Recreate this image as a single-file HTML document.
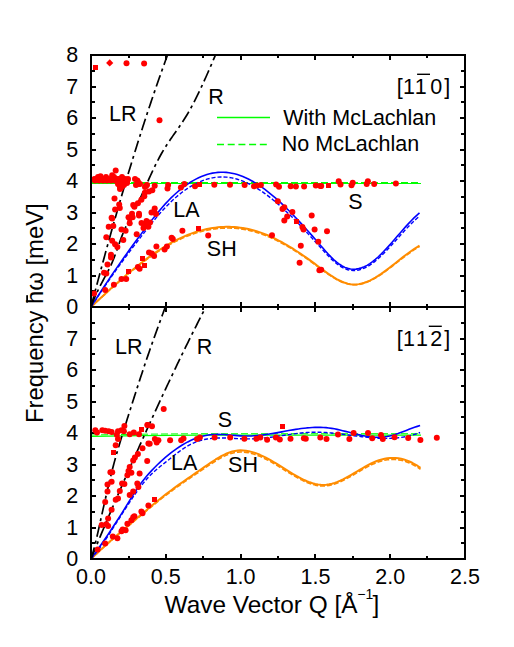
<!DOCTYPE html>
<html><head><meta charset="utf-8"><style>
html,body{margin:0;padding:0;background:#fff;width:514px;height:647px;overflow:hidden}
svg{display:block}
text{font-family:'Liberation Sans', sans-serif;fill:#000}
</style></head><body>
<svg width="514" height="647" viewBox="0 0 514 647">
<g shape-rendering="crispEdges"><rect x="91" y="55" width="374" height="252" fill="none" stroke="#000" stroke-width="2"/><line x1="91" y1="291" x2="95" y2="291" stroke="#000" stroke-width="2"/><line x1="461" y1="291" x2="465" y2="291" stroke="#000" stroke-width="2"/><line x1="91" y1="276" x2="96" y2="276" stroke="#000" stroke-width="2"/><line x1="460" y1="276" x2="465" y2="276" stroke="#000" stroke-width="2"/><line x1="91" y1="260" x2="95" y2="260" stroke="#000" stroke-width="2"/><line x1="461" y1="260" x2="465" y2="260" stroke="#000" stroke-width="2"/><line x1="91" y1="244" x2="96" y2="244" stroke="#000" stroke-width="2"/><line x1="460" y1="244" x2="465" y2="244" stroke="#000" stroke-width="2"/><line x1="91" y1="228" x2="95" y2="228" stroke="#000" stroke-width="2"/><line x1="461" y1="228" x2="465" y2="228" stroke="#000" stroke-width="2"/><line x1="91" y1="213" x2="96" y2="213" stroke="#000" stroke-width="2"/><line x1="460" y1="213" x2="465" y2="213" stroke="#000" stroke-width="2"/><line x1="91" y1="197" x2="95" y2="197" stroke="#000" stroke-width="2"/><line x1="461" y1="197" x2="465" y2="197" stroke="#000" stroke-width="2"/><line x1="91" y1="181" x2="96" y2="181" stroke="#000" stroke-width="2"/><line x1="460" y1="181" x2="465" y2="181" stroke="#000" stroke-width="2"/><line x1="91" y1="165" x2="95" y2="165" stroke="#000" stroke-width="2"/><line x1="461" y1="165" x2="465" y2="165" stroke="#000" stroke-width="2"/><line x1="91" y1="150" x2="96" y2="150" stroke="#000" stroke-width="2"/><line x1="460" y1="150" x2="465" y2="150" stroke="#000" stroke-width="2"/><line x1="91" y1="134" x2="95" y2="134" stroke="#000" stroke-width="2"/><line x1="461" y1="134" x2="465" y2="134" stroke="#000" stroke-width="2"/><line x1="91" y1="118" x2="96" y2="118" stroke="#000" stroke-width="2"/><line x1="460" y1="118" x2="465" y2="118" stroke="#000" stroke-width="2"/><line x1="91" y1="102" x2="95" y2="102" stroke="#000" stroke-width="2"/><line x1="461" y1="102" x2="465" y2="102" stroke="#000" stroke-width="2"/><line x1="91" y1="87" x2="96" y2="87" stroke="#000" stroke-width="2"/><line x1="460" y1="87" x2="465" y2="87" stroke="#000" stroke-width="2"/><line x1="91" y1="71" x2="95" y2="71" stroke="#000" stroke-width="2"/><line x1="461" y1="71" x2="465" y2="71" stroke="#000" stroke-width="2"/><rect x="91" y="307" width="374" height="252" fill="none" stroke="#000" stroke-width="2"/><line x1="91" y1="543" x2="95" y2="543" stroke="#000" stroke-width="2"/><line x1="461" y1="543" x2="465" y2="543" stroke="#000" stroke-width="2"/><line x1="91" y1="528" x2="96" y2="528" stroke="#000" stroke-width="2"/><line x1="460" y1="528" x2="465" y2="528" stroke="#000" stroke-width="2"/><line x1="91" y1="512" x2="95" y2="512" stroke="#000" stroke-width="2"/><line x1="461" y1="512" x2="465" y2="512" stroke="#000" stroke-width="2"/><line x1="91" y1="496" x2="96" y2="496" stroke="#000" stroke-width="2"/><line x1="460" y1="496" x2="465" y2="496" stroke="#000" stroke-width="2"/><line x1="91" y1="480" x2="95" y2="480" stroke="#000" stroke-width="2"/><line x1="461" y1="480" x2="465" y2="480" stroke="#000" stroke-width="2"/><line x1="91" y1="465" x2="96" y2="465" stroke="#000" stroke-width="2"/><line x1="460" y1="465" x2="465" y2="465" stroke="#000" stroke-width="2"/><line x1="91" y1="449" x2="95" y2="449" stroke="#000" stroke-width="2"/><line x1="461" y1="449" x2="465" y2="449" stroke="#000" stroke-width="2"/><line x1="91" y1="433" x2="96" y2="433" stroke="#000" stroke-width="2"/><line x1="460" y1="433" x2="465" y2="433" stroke="#000" stroke-width="2"/><line x1="91" y1="417" x2="95" y2="417" stroke="#000" stroke-width="2"/><line x1="461" y1="417" x2="465" y2="417" stroke="#000" stroke-width="2"/><line x1="91" y1="402" x2="96" y2="402" stroke="#000" stroke-width="2"/><line x1="460" y1="402" x2="465" y2="402" stroke="#000" stroke-width="2"/><line x1="91" y1="386" x2="95" y2="386" stroke="#000" stroke-width="2"/><line x1="461" y1="386" x2="465" y2="386" stroke="#000" stroke-width="2"/><line x1="91" y1="370" x2="96" y2="370" stroke="#000" stroke-width="2"/><line x1="460" y1="370" x2="465" y2="370" stroke="#000" stroke-width="2"/><line x1="91" y1="354" x2="95" y2="354" stroke="#000" stroke-width="2"/><line x1="461" y1="354" x2="465" y2="354" stroke="#000" stroke-width="2"/><line x1="91" y1="339" x2="96" y2="339" stroke="#000" stroke-width="2"/><line x1="460" y1="339" x2="465" y2="339" stroke="#000" stroke-width="2"/><line x1="91" y1="323" x2="95" y2="323" stroke="#000" stroke-width="2"/><line x1="461" y1="323" x2="465" y2="323" stroke="#000" stroke-width="2"/><line x1="129" y1="55" x2="129" y2="58" stroke="#000" stroke-width="2"/><line x1="129" y1="304" x2="129" y2="310" stroke="#000" stroke-width="2"/><line x1="129" y1="556" x2="129" y2="559" stroke="#000" stroke-width="2"/><line x1="166" y1="55" x2="166" y2="60" stroke="#000" stroke-width="2"/><line x1="166" y1="302" x2="166" y2="312" stroke="#000" stroke-width="2"/><line x1="166" y1="554" x2="166" y2="559" stroke="#000" stroke-width="2"/><line x1="203" y1="55" x2="203" y2="58" stroke="#000" stroke-width="2"/><line x1="203" y1="304" x2="203" y2="310" stroke="#000" stroke-width="2"/><line x1="203" y1="556" x2="203" y2="559" stroke="#000" stroke-width="2"/><line x1="241" y1="55" x2="241" y2="60" stroke="#000" stroke-width="2"/><line x1="241" y1="302" x2="241" y2="312" stroke="#000" stroke-width="2"/><line x1="241" y1="554" x2="241" y2="559" stroke="#000" stroke-width="2"/><line x1="278" y1="55" x2="278" y2="58" stroke="#000" stroke-width="2"/><line x1="278" y1="304" x2="278" y2="310" stroke="#000" stroke-width="2"/><line x1="278" y1="556" x2="278" y2="559" stroke="#000" stroke-width="2"/><line x1="315" y1="55" x2="315" y2="60" stroke="#000" stroke-width="2"/><line x1="315" y1="302" x2="315" y2="312" stroke="#000" stroke-width="2"/><line x1="315" y1="554" x2="315" y2="559" stroke="#000" stroke-width="2"/><line x1="353" y1="55" x2="353" y2="58" stroke="#000" stroke-width="2"/><line x1="353" y1="304" x2="353" y2="310" stroke="#000" stroke-width="2"/><line x1="353" y1="556" x2="353" y2="559" stroke="#000" stroke-width="2"/><line x1="390" y1="55" x2="390" y2="60" stroke="#000" stroke-width="2"/><line x1="390" y1="302" x2="390" y2="312" stroke="#000" stroke-width="2"/><line x1="390" y1="554" x2="390" y2="559" stroke="#000" stroke-width="2"/><line x1="427" y1="55" x2="427" y2="58" stroke="#000" stroke-width="2"/><line x1="427" y1="304" x2="427" y2="310" stroke="#000" stroke-width="2"/><line x1="427" y1="556" x2="427" y2="559" stroke="#000" stroke-width="2"/></g>
<defs><clipPath id="cu"><rect x="92" y="56" width="372" height="250"/></clipPath><clipPath id="cl"><rect x="92" y="308" width="372" height="250"/></clipPath></defs>
<g clip-path="url(#cu)">
<polyline points="91.00,182.50 421.00,182.50" fill="none" stroke="#00ff00" stroke-width="1" stroke-dasharray="7,3" stroke-linejoin="round" />
<polyline points="91.00,183.50 421.00,183.50" fill="none" stroke="#00ff00" stroke-width="1.2" stroke-linejoin="round" />
<polyline points="91.00,307.00 93.76,304.45 96.52,301.91 99.28,299.37 102.04,296.85 104.80,294.35 107.56,291.85 110.32,289.38 113.08,286.93 115.84,284.50 118.61,282.09 121.37,279.71 124.13,277.36 126.89,275.04 129.65,272.76 132.41,270.51 135.17,268.29 137.93,266.12 140.69,263.98 143.45,261.89 146.21,259.84 148.97,257.85 151.73,255.90 154.49,254.00 157.25,252.16 160.01,250.37 162.77,248.64 165.53,246.97 168.29,245.37 171.05,243.82 173.82,242.35 176.58,240.94 179.34,239.60 182.10,238.33 184.86,237.14 187.62,236.02 190.38,234.97 193.14,233.99 195.90,233.09 198.66,232.25 201.42,231.50 204.18,230.81 206.94,230.20 209.70,229.67 212.46,229.21 215.22,228.83 217.98,228.52 220.74,228.29 223.50,228.14 226.26,228.06 229.03,228.06 231.79,228.14 234.55,228.29 237.31,228.53 240.07,228.84 242.83,229.23 245.59,229.70 248.35,230.26 251.11,230.89 253.87,231.60 256.63,232.39 259.39,233.27 262.15,234.22 264.91,235.26 267.67,236.37 270.43,237.55 273.19,238.81 275.95,240.13 278.71,241.52 281.47,242.97 284.24,244.48 287.00,246.05 289.76,247.67 292.52,249.34 295.28,251.07 298.04,252.84 300.80,254.66 303.56,256.52 306.32,258.42 309.08,260.36 311.84,262.33 314.60,264.33 317.36,266.36 320.12,268.40 322.88,270.42 325.64,272.41 328.40,274.33 331.16,276.17 333.92,277.89 336.68,279.48 339.45,280.91 342.21,282.15 344.97,283.18 347.73,283.99 350.49,284.53 353.25,284.79 356.01,284.77 358.77,284.47 361.53,283.92 364.29,283.14 367.05,282.14 369.81,280.95 372.57,279.58 375.33,278.04 378.09,276.37 380.85,274.57 383.61,272.66 386.37,270.66 389.13,268.60 391.89,266.49 394.66,264.34 397.42,262.18 400.18,260.02 402.94,257.88 405.70,255.79 408.46,253.75 411.22,251.79 413.98,249.92 416.74,248.17 419.50,246.55" fill="none" stroke="#ff8c00" stroke-width="1.6" stroke-dasharray="5,2" stroke-linejoin="round" />
<polyline points="91.00,307.00 93.76,304.41 96.52,301.83 99.28,299.26 102.04,296.70 104.80,294.15 107.56,291.62 110.32,289.11 113.08,286.62 115.84,284.16 118.61,281.71 121.37,279.30 124.13,276.91 126.89,274.56 129.65,272.24 132.41,269.95 135.17,267.70 137.93,265.49 140.69,263.33 143.45,261.20 146.21,259.13 148.97,257.10 151.73,255.12 154.49,253.19 157.25,251.32 160.01,249.51 162.77,247.75 165.53,246.06 168.29,244.43 171.05,242.86 173.82,241.36 176.58,239.93 179.34,238.57 182.10,237.29 184.86,236.08 187.62,234.94 190.38,233.87 193.14,232.88 195.90,231.96 198.66,231.12 201.42,230.35 204.18,229.65 206.94,229.04 209.70,228.49 212.46,228.03 215.22,227.64 217.98,227.33 220.74,227.09 223.50,226.94 226.26,226.86 229.03,226.86 231.79,226.94 234.55,227.09 237.31,227.33 240.07,227.65 242.83,228.05 245.59,228.53 248.35,229.09 251.11,229.73 253.87,230.45 256.63,231.26 259.39,232.15 262.15,233.12 264.91,234.17 267.67,235.29 270.43,236.49 273.19,237.77 275.95,239.11 278.71,240.52 281.47,241.99 284.24,243.52 287.00,245.12 289.76,246.77 292.52,248.47 295.28,250.22 298.04,252.02 300.80,253.86 303.56,255.75 306.32,257.68 309.08,259.65 311.84,261.65 314.60,263.68 317.36,265.74 320.12,267.81 322.88,269.86 325.64,271.88 328.40,273.83 331.16,275.70 333.92,277.45 336.68,279.06 339.45,280.51 342.21,281.77 344.97,282.82 347.73,283.64 350.49,284.19 353.25,284.45 356.01,284.43 358.77,284.13 361.53,283.57 364.29,282.78 367.05,281.77 369.81,280.55 372.57,279.16 375.33,277.60 378.09,275.90 380.85,274.07 383.61,272.14 386.37,270.11 389.13,268.02 391.89,265.87 394.66,263.69 397.42,261.49 400.18,259.30 402.94,257.13 405.70,255.01 408.46,252.94 411.22,250.95 413.98,249.05 416.74,247.27 419.50,245.63" fill="none" stroke="#ff8c00" stroke-width="2.0" stroke-linejoin="round" />
<polyline points="91.00,307.00 93.76,302.77 96.52,298.59 99.28,294.45 102.04,290.34 104.80,286.28 107.56,282.26 110.32,278.28 113.08,274.34 115.84,270.45 118.61,266.59 121.37,262.78 124.13,259.01 126.89,255.28 129.65,251.60 132.41,247.94 135.17,244.32 137.93,240.73 140.69,237.16 143.45,233.61 146.21,230.09 148.97,226.60 151.73,223.17 154.49,219.80 157.25,216.51 160.01,213.32 162.77,210.23 165.53,207.27 168.29,204.44 171.05,201.74 173.82,199.17 176.58,196.74 179.34,194.45 182.10,192.29 184.86,190.27 187.62,188.39 190.38,186.65 193.14,185.04 195.90,183.58 198.66,182.27 201.42,181.09 204.18,180.06 206.94,179.17 209.70,178.43 212.46,177.84 215.22,177.39 217.98,177.09 220.74,176.94 223.50,176.94 226.26,177.10 229.03,177.40 231.79,177.86 234.55,178.46 237.31,179.21 240.07,180.09 242.83,181.11 245.59,182.25 248.35,183.53 251.11,184.92 253.87,186.43 256.63,188.06 259.39,189.79 262.15,191.63 264.91,193.57 267.67,195.60 270.43,197.73 273.19,199.95 275.95,202.25 278.71,204.63 281.47,207.09 284.24,209.61 287.00,212.21 289.76,214.87 292.52,217.58 295.28,220.35 298.04,223.18 300.80,226.04 303.56,228.96 306.32,231.91 309.08,234.89 311.84,237.90 314.60,240.94 317.36,244.00 320.12,247.08 322.88,250.15 325.64,253.17 328.40,256.09 331.16,258.87 333.92,261.44 336.68,263.76 339.45,265.79 342.21,267.47 344.97,268.78 347.73,269.72 350.49,270.30 353.25,270.53 356.01,270.42 358.77,269.98 361.53,269.23 364.29,268.17 367.05,266.80 369.81,265.15 372.57,263.24 375.33,261.09 378.09,258.74 380.85,256.20 383.61,253.50 386.37,250.67 389.13,247.74 391.89,244.73 394.66,241.67 397.42,238.58 400.18,235.50 402.94,232.45 405.70,229.45 408.46,226.53 411.22,223.72 413.98,221.04 416.74,218.52 419.50,216.20" fill="none" stroke="#0000ff" stroke-width="1.4" stroke-dasharray="4,2" stroke-linejoin="round" />
<polyline points="91.00,307.00 93.76,302.62 96.52,298.28 99.28,293.99 102.04,289.74 104.80,285.53 107.56,281.36 110.32,277.24 113.08,273.16 115.84,269.12 118.61,265.13 121.37,261.18 124.13,257.27 126.89,253.41 129.65,249.59 132.41,245.80 135.17,242.05 137.93,238.33 140.69,234.63 143.45,230.95 146.21,227.30 148.97,223.69 151.73,220.13 154.49,216.64 157.25,213.23 160.01,209.92 162.77,206.72 165.53,203.65 168.29,200.72 171.05,197.92 173.82,195.26 176.58,192.75 179.34,190.37 182.10,188.13 184.86,186.04 187.62,184.09 190.38,182.28 193.14,180.62 195.90,179.11 198.66,177.74 201.42,176.52 204.18,175.45 206.94,174.53 209.70,173.77 212.46,173.15 215.22,172.69 217.98,172.38 220.74,172.23 223.50,172.23 226.26,172.39 229.03,172.70 231.79,173.18 234.55,173.80 237.31,174.57 240.07,175.49 242.83,176.54 245.59,177.73 248.35,179.05 251.11,180.49 253.87,182.06 256.63,183.74 259.39,185.54 262.15,187.44 264.91,189.45 267.67,191.56 270.43,193.77 273.19,196.07 275.95,198.45 278.71,200.92 281.47,203.46 284.24,206.08 287.00,208.77 289.76,211.52 292.52,214.34 295.28,217.21 298.04,220.14 300.80,223.11 303.56,226.13 306.32,229.18 309.08,232.27 311.84,235.40 314.60,238.54 317.36,241.72 320.12,244.90 322.88,248.09 325.64,251.22 328.40,254.25 331.16,257.12 333.92,259.79 336.68,262.20 339.45,264.30 342.21,266.04 344.97,267.39 347.73,268.37 350.49,268.97 353.25,269.21 356.01,269.09 358.77,268.64 361.53,267.86 364.29,266.76 367.05,265.34 369.81,263.64 372.57,261.65 375.33,259.43 378.09,256.99 380.85,254.35 383.61,251.56 386.37,248.63 389.13,245.59 391.89,242.47 394.66,239.30 397.42,236.10 400.18,232.91 402.94,229.74 405.70,226.63 408.46,223.61 411.22,220.70 413.98,217.92 416.74,215.32 419.50,212.90" fill="none" stroke="#0000ff" stroke-width="1.6" stroke-linejoin="round" />
<polyline points="91.00,307.01 91.70,304.34 92.39,301.67 93.09,299.02 93.78,296.36 94.48,293.72 95.17,291.08 95.87,288.45 96.56,285.83 97.26,283.21 97.95,280.60 98.65,278.00 99.35,275.41 100.04,272.82 100.74,270.23 101.43,267.66 102.13,265.09 102.82,262.53 103.52,259.97 104.21,257.42 104.91,254.88 105.61,252.35 106.30,249.82 107.00,247.30 107.69,244.78 108.39,242.27 109.08,239.77 109.78,237.28 110.47,234.79 111.17,232.31 111.86,229.84 112.56,227.37 113.26,224.92 113.95,222.46 114.65,220.02 115.34,217.58 116.04,215.15 116.73,212.72 117.43,210.31 118.12,207.90 118.82,205.49 119.51,203.10 120.21,200.71 120.91,198.33 121.60,195.95 122.30,193.58 122.99,191.22 123.69,188.87 124.38,186.52 125.08,184.18 125.77,181.85 126.47,179.52 127.16,177.20 127.86,174.89 128.56,172.59 129.25,170.29 129.95,168.00 130.64,165.71 131.34,163.44 132.03,161.17 132.73,158.91 133.42,156.65 134.12,154.41 134.82,152.16 135.51,149.93 136.21,147.71 136.90,145.49 137.60,143.28 138.29,141.07 138.99,138.87 139.68,136.68 140.38,134.50 141.07,132.33 141.77,130.16 142.47,128.00 143.16,125.84 143.86,123.70 144.55,121.56 145.25,119.42 145.94,117.30 146.64,115.18 147.33,113.07 148.03,110.97 148.72,108.87 149.42,106.79 150.12,104.71 150.81,102.63 151.51,100.57 152.20,98.51 152.90,96.46 153.59,94.41 154.29,92.38 154.98,90.35 155.68,88.33 156.38,86.31 157.07,84.30 157.77,82.30 158.46,80.31 159.16,78.33 159.85,76.35 160.55,74.38 161.24,72.42 161.94,70.46 162.63,68.52 163.33,66.58 164.03,64.64 164.72,62.72 165.42,60.80 166.11,58.89 166.81,56.99 167.50,55.10 168.20,53.21 168.89,51.33 169.59,49.46 170.28,47.59 170.98,45.73 171.68,43.89 172.37,42.04 173.07,40.21 173.76,38.38" fill="none" stroke="#000" stroke-width="1.7" stroke-dasharray="12,4,3,4" stroke-linejoin="round" />
<polyline points="91.00,307.00 92.10,304.01 93.21,301.17 94.31,298.46 95.42,295.88 96.52,293.41 97.63,291.04 98.73,288.75 99.83,286.54 100.94,284.39 102.04,282.30 103.15,280.23 104.25,278.20 105.35,276.16 106.46,274.11 107.56,272.02 108.67,269.87 109.77,267.63 110.88,265.29 111.98,262.83 113.08,260.22 114.19,257.44 115.29,254.51 116.40,251.46 117.50,248.35 118.60,245.21 119.71,242.09 120.81,239.03 121.92,236.08 123.02,233.28 124.13,230.65 125.23,228.18 126.33,225.83 127.44,223.58 128.54,221.42 129.65,219.31 130.75,217.25 131.85,215.19 132.96,213.12 134.06,211.02 135.17,208.87 136.27,206.65 137.38,204.38 138.48,202.06 139.58,199.70 140.69,197.30 141.79,194.87 142.90,192.42 144.00,189.96 145.11,187.49 146.21,185.01 147.31,182.54 148.42,180.09 149.52,177.65 150.63,175.23 151.73,172.84 152.83,170.48 153.94,168.16 155.04,165.88 156.15,163.65 157.25,161.46 158.36,159.33 159.46,157.25 160.56,155.23 161.67,153.28 162.77,151.38 163.88,149.54 164.98,147.74 166.08,145.99 167.19,144.28 168.29,142.60 169.40,140.95 170.50,139.33 171.61,137.72 172.71,136.13 173.81,134.56 174.92,132.98 176.02,131.41 177.13,129.84 178.23,128.25 179.34,126.66 180.44,125.04 181.54,123.40 182.65,121.74 183.75,120.04 184.86,118.31 185.96,116.54 187.06,114.72 188.17,112.84 189.27,110.92 190.38,108.95 191.48,106.94 192.59,104.87 193.69,102.77 194.79,100.62 195.90,98.43 197.00,96.21 198.11,93.95 199.21,91.65 200.31,89.32 201.42,86.96 202.52,84.57 203.63,82.15 204.73,79.71 205.84,77.24 206.94,74.75 208.04,72.24 209.15,69.71 210.25,67.16 211.36,64.60 212.46,62.02 213.56,59.43 214.67,56.84 215.77,54.23 216.88,51.62 217.98,49.00 219.09,46.38 220.19,43.76 221.29,41.14 222.40,38.52" fill="none" stroke="#000" stroke-width="1.7" stroke-dasharray="12,4,3,4" stroke-linejoin="round" />
</g>
<g clip-path="url(#cl)">
<polyline points="91.00,435.00 140.00,434.20 200.00,433.70 421.00,433.70" fill="none" stroke="#00ff00" stroke-width="1" stroke-dasharray="7,3" stroke-linejoin="round" />
<polyline points="91.00,436.30 140.00,435.60 200.00,435.20 421.00,435.20" fill="none" stroke="#00ff00" stroke-width="1.2" stroke-linejoin="round" />
<polyline points="91.00,559.00 93.77,556.38 96.54,553.80 99.31,551.25 102.08,548.74 104.84,546.25 107.61,543.80 110.38,541.37 113.15,538.96 115.92,536.57 118.69,534.20 121.46,531.84 124.23,529.49 127.00,527.16 129.76,524.83 132.53,522.50 135.30,520.17 138.07,517.84 140.84,515.52 143.61,513.19 146.38,510.88 149.15,508.58 151.92,506.29 154.68,504.03 157.45,501.81 160.22,499.61 162.99,497.45 165.76,495.34 168.53,493.26 171.30,491.23 174.07,489.22 176.84,487.25 179.61,485.30 182.37,483.37 185.14,481.46 187.91,479.57 190.68,477.69 193.45,475.81 196.22,473.94 198.99,472.06 201.76,470.18 204.53,468.30 207.29,466.41 210.06,464.55 212.83,462.73 215.60,460.98 218.37,459.32 221.14,457.77 223.91,456.36 226.68,455.11 229.45,454.04 232.21,453.18 234.98,452.54 237.75,452.15 240.52,452.00 243.29,452.06 246.06,452.34 248.83,452.81 251.60,453.46 254.37,454.28 257.13,455.25 259.90,456.35 262.67,457.59 265.44,458.93 268.21,460.37 270.98,461.89 273.75,463.48 276.52,465.13 279.29,466.82 282.05,468.53 284.82,470.25 287.59,471.97 290.36,473.67 293.13,475.32 295.90,476.92 298.67,478.45 301.44,479.89 304.21,481.21 306.97,482.41 309.74,483.47 312.51,484.37 315.28,485.09 318.05,485.61 320.82,485.93 323.59,486.01 326.36,485.85 329.13,485.44 331.89,484.82 334.66,483.99 337.43,482.99 340.20,481.83 342.97,480.54 345.74,479.13 348.51,477.64 351.28,476.08 354.05,474.48 356.82,472.85 359.58,471.23 362.35,469.63 365.12,468.07 367.89,466.58 370.66,465.18 373.43,463.89 376.20,462.74 378.97,461.74 381.74,460.91 384.50,460.27 387.27,459.81 390.04,459.54 392.81,459.45 395.58,459.55 398.35,459.85 401.12,460.33 403.89,461.01 406.66,461.88 409.42,462.95 412.19,464.22 414.96,465.69 417.73,467.36 420.50,469.24" fill="none" stroke="#ff8c00" stroke-width="1.6" stroke-dasharray="5,2" stroke-linejoin="round" />
<polyline points="91.00,559.00 93.77,556.34 96.54,553.72 99.31,551.13 102.08,548.58 104.84,546.06 107.61,543.57 110.38,541.10 113.15,538.65 115.92,536.23 118.69,533.82 121.46,531.43 124.23,529.04 127.00,526.67 129.76,524.31 132.53,521.94 135.30,519.58 138.07,517.22 140.84,514.85 143.61,512.49 146.38,510.14 149.15,507.81 151.92,505.49 154.68,503.20 157.45,500.93 160.22,498.70 162.99,496.51 165.76,494.37 168.53,492.26 171.30,490.19 174.07,488.16 176.84,486.16 179.61,484.18 182.37,482.22 185.14,480.28 187.91,478.36 190.68,476.45 193.45,474.54 196.22,472.64 198.99,470.74 201.76,468.83 204.53,466.91 207.29,465.00 210.06,463.11 212.83,461.26 215.60,459.48 218.37,457.80 221.14,456.23 223.91,454.80 226.68,453.53 229.45,452.45 232.21,451.57 234.98,450.92 237.75,450.52 240.52,450.37 243.29,450.43 246.06,450.71 248.83,451.19 251.60,451.85 254.37,452.68 257.13,453.67 259.90,454.79 262.67,456.04 265.44,457.41 268.21,458.87 270.98,460.41 273.75,462.03 276.52,463.70 279.29,465.41 282.05,467.15 284.82,468.90 287.59,470.65 290.36,472.37 293.13,474.05 295.90,475.67 298.67,477.22 301.44,478.68 304.21,480.03 306.97,481.25 309.74,482.32 312.51,483.23 315.28,483.96 318.05,484.50 320.82,484.81 323.59,484.90 326.36,484.74 329.13,484.32 331.89,483.69 334.66,482.85 337.43,481.83 340.20,480.65 342.97,479.34 345.74,477.92 348.51,476.40 351.28,474.82 354.05,473.19 356.82,471.54 359.58,469.89 362.35,468.27 365.12,466.69 367.89,465.18 370.66,463.75 373.43,462.44 376.20,461.27 378.97,460.26 381.74,459.42 384.50,458.77 387.27,458.30 390.04,458.02 392.81,457.94 395.58,458.04 398.35,458.34 401.12,458.83 403.89,459.51 406.66,460.40 409.42,461.49 412.19,462.78 414.96,464.27 417.73,465.97 420.50,467.87" fill="none" stroke="#ff8c00" stroke-width="2.0" stroke-linejoin="round" />
<polyline points="91.00,559.00 93.77,555.71 96.53,552.20 99.30,548.50 102.06,544.64 104.83,540.63 107.59,536.51 110.36,532.29 113.12,527.99 115.89,523.65 118.66,519.29 121.42,514.93 124.19,510.59 126.95,506.29 129.72,502.07 132.48,497.95 135.25,493.94 138.01,490.08 140.78,486.38 143.55,482.88 146.31,479.58 149.08,476.53 151.84,473.74 154.61,471.17 157.37,468.79 160.14,466.53 162.90,464.34 165.67,462.17 168.44,459.97 171.20,457.75 173.97,455.56 176.73,453.42 179.50,451.35 182.26,449.38 185.03,447.54 187.79,445.86 190.56,444.37 193.33,443.07 196.09,441.95 198.86,441.00 201.62,440.20 204.39,439.55 207.15,439.02 209.92,438.62 212.68,438.33 215.45,438.13 218.22,438.02 220.98,437.98 223.75,438.00 226.51,438.07 229.28,438.17 232.04,438.30 234.81,438.44 237.57,438.58 240.34,438.71 243.11,438.82 245.87,438.89 248.64,438.91 251.40,438.88 254.17,438.78 256.93,438.62 259.70,438.42 262.46,438.17 265.23,437.88 267.99,437.55 270.76,437.19 273.53,436.82 276.29,436.42 279.06,436.01 281.82,435.60 284.59,435.19 287.35,434.78 290.12,434.38 292.88,434.00 295.65,433.64 298.42,433.31 301.18,433.01 303.95,432.75 306.71,432.54 309.48,432.37 312.24,432.27 315.01,432.22 317.77,432.23 320.54,432.30 323.31,432.41 326.07,432.57 328.84,432.78 331.60,433.02 334.37,433.29 337.13,433.58 339.90,433.91 342.66,434.24 345.43,434.60 348.20,434.96 350.96,435.32 353.73,435.69 356.49,436.05 359.26,436.40 362.02,436.74 364.79,437.05 367.55,437.35 370.32,437.62 373.09,437.85 375.85,438.05 378.62,438.21 381.38,438.32 384.15,438.39 386.91,438.39 389.68,438.34 392.44,438.22 395.21,438.04 397.98,437.78 400.74,437.44 403.51,437.03 406.27,436.52 409.04,435.92 411.80,435.23 414.57,434.44 417.33,433.54 420.10,432.53" fill="none" stroke="#0000ff" stroke-width="1.4" stroke-dasharray="4,2" stroke-linejoin="round" />
<polyline points="91.00,559.00 93.77,555.14 96.53,551.24 99.30,547.30 102.06,543.30 104.83,539.25 107.59,535.16 110.36,531.00 113.12,526.79 115.89,522.53 118.66,518.20 121.42,513.81 124.19,509.36 126.95,504.85 129.72,500.32 132.48,495.87 135.25,491.55 138.01,487.45 140.78,483.61 143.55,479.99 146.31,476.59 149.08,473.38 151.84,470.35 154.61,467.47 157.37,464.74 160.14,462.12 162.90,459.60 165.67,457.19 168.44,454.88 171.20,452.68 173.97,450.59 176.73,448.61 179.50,446.76 182.26,445.02 185.03,443.40 187.79,441.91 190.56,440.55 193.33,439.32 196.09,438.22 198.86,437.26 201.62,436.43 204.39,435.75 207.15,435.21 209.92,434.82 212.68,434.57 215.45,434.43 218.22,434.40 220.98,434.45 223.75,434.57 226.51,434.75 229.28,434.96 232.04,435.19 234.81,435.42 237.57,435.64 240.34,435.83 243.11,435.97 245.87,436.04 248.64,436.04 251.40,435.96 254.17,435.81 256.93,435.60 259.70,435.33 262.46,435.01 265.23,434.64 267.99,434.24 270.76,433.80 273.53,433.34 276.29,432.85 279.06,432.35 281.82,431.84 284.59,431.33 287.35,430.83 290.12,430.33 292.88,429.85 295.65,429.40 298.42,428.97 301.18,428.58 303.95,428.23 306.71,427.92 309.48,427.68 312.24,427.49 315.01,427.36 317.77,427.31 320.54,427.34 323.31,427.45 326.07,427.65 328.84,427.95 331.60,428.34 334.37,428.83 337.13,429.38 339.90,430.00 342.66,430.66 345.43,431.35 348.20,432.06 350.96,432.77 353.73,433.48 356.49,434.17 359.26,434.82 362.02,435.43 364.79,435.97 367.55,436.44 370.32,436.83 373.09,437.11 375.85,437.27 378.62,437.31 381.38,437.21 384.15,436.95 386.91,436.52 389.68,435.94 392.44,435.23 395.21,434.40 397.98,433.48 400.74,432.49 403.51,431.46 406.27,430.40 409.04,429.34 411.80,428.30 414.57,427.30 417.33,426.37 420.10,425.53" fill="none" stroke="#0000ff" stroke-width="1.6" stroke-linejoin="round" />
<polyline points="91.00,559.00 91.67,556.87 92.35,554.61 93.02,552.23 93.70,549.74 94.37,547.16 95.04,544.48 95.72,541.73 96.39,538.90 97.07,536.01 97.74,533.08 98.41,530.09 99.09,527.08 99.76,524.04 100.44,520.99 101.11,517.93 101.78,514.87 102.46,511.83 103.13,508.82 103.81,505.83 104.48,502.86 105.15,499.91 105.83,496.98 106.50,494.05 107.18,491.12 107.85,488.21 108.52,485.31 109.20,482.45 109.87,479.61 110.55,476.82 111.22,474.08 111.89,471.40 112.57,468.76 113.24,466.17 113.92,463.63 114.59,461.13 115.26,458.67 115.94,456.25 116.61,453.87 117.29,451.52 117.96,449.19 118.63,446.90 119.31,444.64 119.98,442.40 120.66,440.18 121.33,437.97 122.00,435.79 122.68,433.62 123.35,431.46 124.02,429.31 124.70,427.17 125.37,425.03 126.05,422.89 126.72,420.76 127.39,418.62 128.07,416.49 128.74,414.36 129.42,412.22 130.09,410.10 130.76,407.97 131.44,405.84 132.11,403.72 132.79,401.60 133.46,399.48 134.13,397.37 134.81,395.26 135.48,393.16 136.16,391.06 136.83,388.96 137.50,386.87 138.18,384.79 138.85,382.71 139.53,380.64 140.20,378.57 140.87,376.51 141.55,374.46 142.22,372.42 142.90,370.38 143.57,368.35 144.24,366.33 144.92,364.32 145.59,362.31 146.27,360.32 146.94,358.33 147.61,356.36 148.29,354.39 148.96,352.44 149.64,350.49 150.31,348.56 150.98,346.63 151.66,344.71 152.33,342.80 153.01,340.90 153.68,339.01 154.35,337.12 155.03,335.24 155.70,333.37 156.38,331.50 157.05,329.63 157.72,327.77 158.40,325.92 159.07,324.07 159.75,322.21 160.42,320.37 161.09,318.52 161.77,316.67 162.44,314.83 163.12,312.99 163.79,311.14 164.46,309.30 165.14,307.45 165.81,305.60 166.49,303.75 167.16,301.90 167.83,300.04 168.51,298.18 169.18,296.31 169.86,294.44 170.53,292.57 171.20,290.69" fill="none" stroke="#000" stroke-width="1.7" stroke-dasharray="12,4,3,4" stroke-linejoin="round" />
<polyline points="91.00,558.99 92.03,556.44 93.06,553.90 94.09,551.36 95.12,548.84 96.15,546.33 97.18,543.82 98.21,541.32 99.24,538.83 100.27,536.35 101.31,533.88 102.34,531.42 103.37,528.96 104.40,526.51 105.43,524.06 106.46,521.63 107.49,519.20 108.52,516.77 109.55,514.36 110.58,511.95 111.61,509.54 112.64,507.14 113.67,504.74 114.70,502.35 115.73,499.96 116.76,497.58 117.79,495.21 118.82,492.83 119.85,490.46 120.88,488.10 121.92,485.74 122.95,483.39 123.98,481.03 125.01,478.69 126.04,476.34 127.07,474.00 128.10,471.67 129.13,469.34 130.16,467.01 131.19,464.68 132.22,462.36 133.25,460.04 134.28,457.73 135.31,455.42 136.34,453.11 137.37,450.80 138.40,448.50 139.43,446.20 140.46,443.91 141.49,441.62 142.53,439.33 143.56,437.04 144.59,434.76 145.62,432.48 146.65,430.20 147.68,427.93 148.71,425.65 149.74,423.39 150.77,421.12 151.80,418.86 152.83,416.61 153.86,414.35 154.89,412.11 155.92,409.86 156.95,407.62 157.98,405.38 159.01,403.15 160.04,400.92 161.07,398.70 162.10,396.47 163.14,394.26 164.17,392.05 165.20,389.84 166.23,387.64 167.26,385.44 168.29,383.25 169.32,381.06 170.35,378.87 171.38,376.69 172.41,374.52 173.44,372.35 174.47,370.19 175.50,368.03 176.53,365.88 177.56,363.73 178.59,361.58 179.62,359.45 180.65,357.32 181.68,355.19 182.72,353.07 183.75,350.96 184.78,348.85 185.81,346.74 186.84,344.65 187.87,342.56 188.90,340.47 189.93,338.39 190.96,336.32 191.99,334.25 193.02,332.19 194.05,330.14 195.08,328.09 196.11,326.04 197.14,324.00 198.17,321.96 199.20,319.93 200.23,317.90 201.26,315.87 202.29,313.85 203.33,311.83 204.36,309.82 205.39,307.81 206.42,305.80 207.45,303.79 208.48,301.78 209.51,299.78 210.54,297.77 211.57,295.77 212.60,293.77 213.63,291.77" fill="none" stroke="#000" stroke-width="1.7" stroke-dasharray="12,4,3,4" stroke-linejoin="round" />
</g>
<g clip-path="url(#cu)">
<rect x="93" y="65" width="5" height="5" fill="#f00"/>
<path d="M109.7,59.3L113.3,62.9L109.7,66.5L106.1,62.9Z" fill="#f00"/>
<circle cx="126.5" cy="63.2" r="3" fill="#f00"/>
<circle cx="144.1" cy="63.4" r="3" fill="#f00"/>
<circle cx="159.5" cy="120.3" r="3" fill="#f00"/>
<circle cx="115.7" cy="170.5" r="3" fill="#f00"/>
<circle cx="94.1" cy="179.3" r="3" fill="#f00"/>
<circle cx="100.5" cy="179.0" r="3" fill="#f00"/>
<circle cx="106.3" cy="179.5" r="3" fill="#f00"/>
<circle cx="112.2" cy="179.5" r="3" fill="#f00"/>
<circle cx="118.0" cy="179.3" r="3" fill="#f00"/>
<circle cx="122.7" cy="180.0" r="3" fill="#f00"/>
<circle cx="127.4" cy="180.4" r="3" fill="#f00"/>
<circle cx="100.5" cy="176.3" r="3" fill="#f00"/>
<circle cx="112.2" cy="175.2" r="3" fill="#f00"/>
<circle cx="119.8" cy="186.3" r="3" fill="#f00"/>
<circle cx="120.9" cy="188.0" r="3" fill="#f00"/>
<circle cx="137.3" cy="180.4" r="3" fill="#f00"/>
<circle cx="138.4" cy="183.9" r="3" fill="#f00"/>
<circle cx="146.0" cy="185.7" r="3" fill="#f00"/>
<circle cx="144.9" cy="192.7" r="3" fill="#f00"/>
<circle cx="144.3" cy="196.2" r="3" fill="#f00"/>
<circle cx="141.4" cy="199.7" r="3" fill="#f00"/>
<circle cx="137.9" cy="203.2" r="3" fill="#f00"/>
<circle cx="133.2" cy="204.9" r="3" fill="#f00"/>
<circle cx="134.4" cy="206.7" r="3" fill="#f00"/>
<circle cx="114.5" cy="198.5" r="3" fill="#f00"/>
<circle cx="119.2" cy="204.4" r="3" fill="#f00"/>
<circle cx="119.8" cy="207.9" r="3" fill="#f00"/>
<circle cx="115.1" cy="209.6" r="3" fill="#f00"/>
<circle cx="111.6" cy="217.8" r="3" fill="#f00"/>
<circle cx="128.5" cy="217.2" r="3" fill="#f00"/>
<circle cx="132.0" cy="213.7" r="3" fill="#f00"/>
<circle cx="139.0" cy="213.7" r="3" fill="#f00"/>
<circle cx="149.0" cy="191.5" r="3" fill="#f00"/>
<circle cx="154.7" cy="185.7" r="3" fill="#f00"/>
<circle cx="152.3" cy="190.3" r="3" fill="#f00"/>
<circle cx="168.1" cy="185.1" r="3" fill="#f00"/>
<circle cx="167.5" cy="188.6" r="3" fill="#f00"/>
<circle cx="184.4" cy="183.9" r="3" fill="#f00"/>
<circle cx="180.9" cy="187.4" r="3" fill="#f00"/>
<circle cx="195.0" cy="186.3" r="3" fill="#f00"/>
<rect x="197" y="182" width="5" height="5" fill="#f00"/>
<circle cx="154.1" cy="211.4" r="3" fill="#f00"/>
<circle cx="154.7" cy="208.4" r="3" fill="#f00"/>
<circle cx="112.2" cy="218.5" r="3" fill="#f00"/>
<circle cx="108.7" cy="226.7" r="3" fill="#f00"/>
<circle cx="113.3" cy="226.1" r="3" fill="#f00"/>
<circle cx="106.3" cy="237.2" r="3" fill="#f00"/>
<circle cx="112.2" cy="240.7" r="3" fill="#f00"/>
<circle cx="115.1" cy="244.2" r="3" fill="#f00"/>
<circle cx="117.4" cy="247.1" r="3" fill="#f00"/>
<circle cx="121.5" cy="229.6" r="3" fill="#f00"/>
<circle cx="125.6" cy="230.8" r="3" fill="#f00"/>
<circle cx="123.3" cy="240.1" r="3" fill="#f00"/>
<circle cx="111.0" cy="254.7" r="3" fill="#f00"/>
<circle cx="111.0" cy="257.6" r="3" fill="#f00"/>
<circle cx="107.5" cy="264.6" r="3" fill="#f00"/>
<circle cx="104.0" cy="272.8" r="3" fill="#f00"/>
<circle cx="106.3" cy="273.4" r="3" fill="#f00"/>
<circle cx="129.7" cy="218.5" r="3" fill="#f00"/>
<circle cx="132.6" cy="217.3" r="3" fill="#f00"/>
<circle cx="129.7" cy="223.2" r="3" fill="#f00"/>
<circle cx="139.0" cy="215.6" r="3" fill="#f00"/>
<circle cx="144.9" cy="224.3" r="3" fill="#f00"/>
<circle cx="148.4" cy="226.7" r="3" fill="#f00"/>
<circle cx="136.7" cy="234.3" r="3" fill="#f00"/>
<rect x="140" y="256" width="5" height="5" fill="#f00"/>
<rect x="142" y="263" width="5" height="5" fill="#f00"/>
<circle cx="137.9" cy="267.0" r="3" fill="#f00"/>
<circle cx="139.6" cy="268.7" r="3" fill="#f00"/>
<rect x="126" y="269" width="5" height="5" fill="#f00"/>
<circle cx="149.0" cy="252.4" r="3" fill="#f00"/>
<circle cx="182.4" cy="230.8" r="3" fill="#f00"/>
<rect x="196" y="226" width="5" height="5" fill="#f00"/>
<circle cx="208.2" cy="235.4" r="3" fill="#f00"/>
<circle cx="171.6" cy="237.8" r="3" fill="#f00"/>
<circle cx="172.8" cy="238.9" r="3" fill="#f00"/>
<circle cx="156.4" cy="246.5" r="3" fill="#f00"/>
<circle cx="166.9" cy="246.5" r="3" fill="#f00"/>
<circle cx="164.6" cy="249.4" r="3" fill="#f00"/>
<circle cx="151.8" cy="253.5" r="3" fill="#f00"/>
<circle cx="154.1" cy="255.9" r="3" fill="#f00"/>
<circle cx="94.1" cy="293.6" r="3" fill="#f00"/>
<circle cx="105.2" cy="290.1" r="3" fill="#f00"/>
<circle cx="113.9" cy="284.8" r="3" fill="#f00"/>
<circle cx="121.5" cy="279.0" r="3" fill="#f00"/>
<circle cx="126.2" cy="279.0" r="3" fill="#f00"/>
<circle cx="214.3" cy="184.7" r="3" fill="#f00"/>
<circle cx="230.0" cy="184.7" r="3" fill="#f00"/>
<circle cx="244.6" cy="185.1" r="3" fill="#f00"/>
<circle cx="254.0" cy="186.3" r="3" fill="#f00"/>
<circle cx="257.0" cy="185.4" r="3" fill="#f00"/>
<circle cx="260.9" cy="185.0" r="3" fill="#f00"/>
<circle cx="276.1" cy="184.4" r="3" fill="#f00"/>
<circle cx="279.0" cy="186.8" r="3" fill="#f00"/>
<circle cx="290.7" cy="186.2" r="3" fill="#f00"/>
<circle cx="295.9" cy="186.4" r="3" fill="#f00"/>
<circle cx="304.1" cy="186.4" r="3" fill="#f00"/>
<circle cx="315.8" cy="185.6" r="3" fill="#f00"/>
<circle cx="320.4" cy="185.9" r="3" fill="#f00"/>
<circle cx="277.8" cy="201.3" r="3" fill="#f00"/>
<circle cx="284.3" cy="207.2" r="3" fill="#f00"/>
<circle cx="282.5" cy="208.9" r="3" fill="#f00"/>
<circle cx="292.4" cy="211.9" r="3" fill="#f00"/>
<circle cx="287.2" cy="216.5" r="3" fill="#f00"/>
<circle cx="284.3" cy="220.6" r="3" fill="#f00"/>
<rect x="294" y="219" width="5" height="5" fill="#f00"/>
<circle cx="311.7" cy="215.4" r="3" fill="#f00"/>
<circle cx="302.4" cy="227.0" r="3" fill="#f00"/>
<circle cx="303.5" cy="229.4" r="3" fill="#f00"/>
<circle cx="314.6" cy="229.4" r="3" fill="#f00"/>
<circle cx="272.0" cy="235.2" r="3" fill="#f00"/>
<circle cx="318.3" cy="241.7" r="3" fill="#f00"/>
<circle cx="300.8" cy="245.8" r="3" fill="#f00"/>
<circle cx="299.6" cy="262.7" r="3" fill="#f00"/>
<circle cx="319.4" cy="270.3" r="3" fill="#f00"/>
<circle cx="321.2" cy="269.7" r="3" fill="#f00"/>
<circle cx="327.0" cy="231.2" r="3" fill="#f00"/>
<circle cx="321.2" cy="185.9" r="3" fill="#f00"/>
<rect x="326" y="183" width="5" height="5" fill="#f00"/>
<circle cx="338.7" cy="181.2" r="3" fill="#f00"/>
<circle cx="340.5" cy="184.5" r="3" fill="#f00"/>
<circle cx="352.7" cy="182.8" r="3" fill="#f00"/>
<circle cx="351.5" cy="185.2" r="3" fill="#f00"/>
<circle cx="367.9" cy="181.2" r="3" fill="#f00"/>
<circle cx="366.7" cy="184.0" r="3" fill="#f00"/>
<circle cx="374.2" cy="184.0" r="3" fill="#f00"/>
<circle cx="395.9" cy="183.5" r="3" fill="#f00"/>
<circle cx="95.0" cy="179.0" r="3" fill="#f00"/>
<circle cx="98.0" cy="179.0" r="3" fill="#f00"/>
<circle cx="101.0" cy="179.0" r="3" fill="#f00"/>
<circle cx="104.0" cy="179.0" r="3" fill="#f00"/>
<circle cx="107.0" cy="179.0" r="3" fill="#f00"/>
<circle cx="110.0" cy="179.0" r="3" fill="#f00"/>
<circle cx="113.0" cy="179.0" r="3" fill="#f00"/>
<circle cx="116.0" cy="179.0" r="3" fill="#f00"/>
<circle cx="119.0" cy="179.0" r="3" fill="#f00"/>
<circle cx="122.0" cy="179.0" r="3" fill="#f00"/>
<circle cx="125.0" cy="179.0" r="3" fill="#f00"/>
<circle cx="128.0" cy="179.0" r="3" fill="#f00"/>
<circle cx="98.0" cy="177.0" r="3" fill="#f00"/>
<circle cx="106.0" cy="177.0" r="3" fill="#f00"/>
<circle cx="114.0" cy="177.0" r="3" fill="#f00"/>
<circle cx="122.0" cy="177.0" r="3" fill="#f00"/>
<circle cx="95.0" cy="180.5" r="3" fill="#f00"/>
<circle cx="99.0" cy="180.5" r="3" fill="#f00"/>
<circle cx="103.0" cy="180.5" r="3" fill="#f00"/>
<circle cx="107.0" cy="180.5" r="3" fill="#f00"/>
<circle cx="111.0" cy="180.5" r="3" fill="#f00"/>
<circle cx="115.0" cy="180.5" r="3" fill="#f00"/>
<circle cx="119.0" cy="180.5" r="3" fill="#f00"/>
<circle cx="123.0" cy="180.5" r="3" fill="#f00"/>
<circle cx="127.0" cy="180.5" r="3" fill="#f00"/>
<circle cx="118.0" cy="184.0" r="3" fill="#f00"/>
<circle cx="122.0" cy="186.0" r="3" fill="#f00"/>
<circle cx="120.0" cy="189.0" r="3" fill="#f00"/>
<circle cx="124.0" cy="185.0" r="3" fill="#f00"/>
<circle cx="127.0" cy="183.0" r="3" fill="#f00"/>
<circle cx="135.0" cy="179.0" r="3" fill="#f00"/>
<circle cx="138.0" cy="182.0" r="3" fill="#f00"/>
<circle cx="136.0" cy="185.0" r="3" fill="#f00"/>
<circle cx="140.0" cy="184.0" r="3" fill="#f00"/>
<circle cx="145.0" cy="187.0" r="3" fill="#f00"/>
<circle cx="147.0" cy="185.0" r="3" fill="#f00"/>
<circle cx="141.5" cy="223.0" r="3" fill="#f00"/>
<circle cx="150.0" cy="222.5" r="3" fill="#f00"/>
<circle cx="146.5" cy="221.0" r="3" fill="#f00"/>
<circle cx="143.5" cy="228.0" r="3" fill="#f00"/>
<circle cx="151.5" cy="212.5" r="3" fill="#f00"/>
<circle cx="156.0" cy="214.0" r="3" fill="#f00"/>
</g><g clip-path="url(#cl)">
<circle cx="95.3" cy="430.2" r="3" fill="#f00"/>
<circle cx="97.0" cy="432.5" r="3" fill="#f00"/>
<circle cx="102.3" cy="430.2" r="3" fill="#f00"/>
<circle cx="105.2" cy="430.8" r="3" fill="#f00"/>
<circle cx="108.7" cy="431.3" r="3" fill="#f00"/>
<circle cx="111.6" cy="431.9" r="3" fill="#f00"/>
<circle cx="118.0" cy="431.3" r="3" fill="#f00"/>
<circle cx="116.8" cy="434.8" r="3" fill="#f00"/>
<circle cx="121.5" cy="430.2" r="3" fill="#f00"/>
<circle cx="124.4" cy="426.1" r="3" fill="#f00"/>
<circle cx="123.9" cy="431.3" r="3" fill="#f00"/>
<circle cx="129.7" cy="434.3" r="3" fill="#f00"/>
<circle cx="133.8" cy="432.5" r="3" fill="#f00"/>
<rect x="139" y="427" width="5" height="5" fill="#f00"/>
<circle cx="139.0" cy="434.3" r="3" fill="#f00"/>
<circle cx="147.8" cy="424.9" r="3" fill="#f00"/>
<circle cx="118.0" cy="438.9" r="3" fill="#f00"/>
<circle cx="115.7" cy="445.3" r="3" fill="#f00"/>
<rect x="111" y="450" width="5" height="5" fill="#f00"/>
<circle cx="142.5" cy="448.3" r="3" fill="#f00"/>
<circle cx="148.4" cy="443.6" r="3" fill="#f00"/>
<circle cx="137.9" cy="454.1" r="3" fill="#f00"/>
<circle cx="134.9" cy="457.6" r="3" fill="#f00"/>
<circle cx="133.2" cy="460.5" r="3" fill="#f00"/>
<circle cx="147.2" cy="461.1" r="3" fill="#f00"/>
<circle cx="129.7" cy="467.0" r="3" fill="#f00"/>
<circle cx="128.5" cy="471.0" r="3" fill="#f00"/>
<circle cx="131.4" cy="472.8" r="3" fill="#f00"/>
<circle cx="112.2" cy="472.2" r="3" fill="#f00"/>
<circle cx="139.6" cy="473.4" r="3" fill="#f00"/>
<circle cx="163.7" cy="409.1" r="3" fill="#f00"/>
<circle cx="147.3" cy="425.1" r="3" fill="#f00"/>
<circle cx="152.0" cy="426.3" r="3" fill="#f00"/>
<circle cx="154.9" cy="439.1" r="3" fill="#f00"/>
<circle cx="156.7" cy="442.6" r="3" fill="#f00"/>
<circle cx="149.7" cy="443.8" r="3" fill="#f00"/>
<circle cx="158.4" cy="440.3" r="3" fill="#f00"/>
<circle cx="170.1" cy="440.3" r="3" fill="#f00"/>
<circle cx="183.5" cy="438.5" r="3" fill="#f00"/>
<circle cx="181.2" cy="440.3" r="3" fill="#f00"/>
<circle cx="197.0" cy="439.1" r="3" fill="#f00"/>
<circle cx="199.9" cy="437.4" r="3" fill="#f00"/>
<circle cx="110.4" cy="472.3" r="3" fill="#f00"/>
<circle cx="127.4" cy="475.3" r="3" fill="#f00"/>
<circle cx="107.5" cy="484.6" r="3" fill="#f00"/>
<circle cx="111.6" cy="481.7" r="3" fill="#f00"/>
<circle cx="122.1" cy="483.4" r="3" fill="#f00"/>
<circle cx="124.4" cy="484.0" r="3" fill="#f00"/>
<circle cx="137.3" cy="483.4" r="3" fill="#f00"/>
<circle cx="138.4" cy="486.9" r="3" fill="#f00"/>
<circle cx="107.5" cy="491.6" r="3" fill="#f00"/>
<circle cx="119.8" cy="491.0" r="3" fill="#f00"/>
<circle cx="133.2" cy="491.6" r="3" fill="#f00"/>
<circle cx="129.7" cy="495.1" r="3" fill="#f00"/>
<circle cx="118.0" cy="498.6" r="3" fill="#f00"/>
<circle cx="115.7" cy="499.8" r="3" fill="#f00"/>
<circle cx="105.2" cy="502.1" r="3" fill="#f00"/>
<circle cx="111.6" cy="509.7" r="3" fill="#f00"/>
<circle cx="108.1" cy="518.4" r="3" fill="#f00"/>
<circle cx="101.7" cy="524.9" r="3" fill="#f00"/>
<circle cx="106.3" cy="524.3" r="3" fill="#f00"/>
<circle cx="108.1" cy="526.0" r="3" fill="#f00"/>
<circle cx="141.4" cy="511.4" r="3" fill="#f00"/>
<circle cx="142.5" cy="513.2" r="3" fill="#f00"/>
<circle cx="148.4" cy="505.6" r="3" fill="#f00"/>
<circle cx="133.2" cy="517.3" r="3" fill="#f00"/>
<circle cx="131.4" cy="520.2" r="3" fill="#f00"/>
<circle cx="127.4" cy="523.7" r="3" fill="#f00"/>
<circle cx="122.7" cy="529.5" r="3" fill="#f00"/>
<circle cx="105.2" cy="543.6" r="3" fill="#f00"/>
<circle cx="97.6" cy="549.4" r="3" fill="#f00"/>
<circle cx="112.8" cy="536.6" r="3" fill="#f00"/>
<circle cx="117.4" cy="538.3" r="3" fill="#f00"/>
<circle cx="121.5" cy="531.3" r="3" fill="#f00"/>
<circle cx="125.6" cy="530.2" r="3" fill="#f00"/>
<circle cx="134.4" cy="516.2" r="3" fill="#f00"/>
<rect x="152" y="497" width="5" height="5" fill="#f00"/>
<circle cx="214.6" cy="437.4" r="3" fill="#f00"/>
<circle cx="230.2" cy="437.4" r="3" fill="#f00"/>
<circle cx="244.4" cy="438.8" r="3" fill="#f00"/>
<circle cx="256.4" cy="438.8" r="3" fill="#f00"/>
<circle cx="260.3" cy="437.4" r="3" fill="#f00"/>
<circle cx="267.1" cy="439.7" r="3" fill="#f00"/>
<circle cx="275.9" cy="437.4" r="3" fill="#f00"/>
<circle cx="279.8" cy="439.4" r="3" fill="#f00"/>
<circle cx="290.5" cy="438.8" r="3" fill="#f00"/>
<rect x="280" y="424" width="5" height="5" fill="#f00"/>
<circle cx="303.9" cy="438.3" r="3" fill="#f00"/>
<circle cx="305.8" cy="438.7" r="3" fill="#f00"/>
<circle cx="320.3" cy="437.6" r="3" fill="#f00"/>
<circle cx="326.5" cy="439.1" r="3" fill="#f00"/>
<circle cx="338.0" cy="434.5" r="3" fill="#f00"/>
<circle cx="349.4" cy="439.1" r="3" fill="#f00"/>
<circle cx="353.6" cy="432.9" r="3" fill="#f00"/>
<circle cx="368.0" cy="432.9" r="3" fill="#f00"/>
<circle cx="372.2" cy="438.3" r="3" fill="#f00"/>
<circle cx="381.0" cy="434.9" r="3" fill="#f00"/>
<circle cx="382.8" cy="439.1" r="3" fill="#f00"/>
<circle cx="394.5" cy="437.2" r="3" fill="#f00"/>
<circle cx="408.2" cy="438.0" r="3" fill="#f00"/>
<circle cx="420.4" cy="439.9" r="3" fill="#f00"/>
<circle cx="436.8" cy="437.7" r="3" fill="#f00"/>
</g>
<text x="78.2" y="314" font-size="21.5" text-anchor="end" >0</text>
<text x="78.2" y="283" font-size="21.5" text-anchor="end" >1</text>
<text x="78.2" y="251" font-size="21.5" text-anchor="end" >2</text>
<text x="78.2" y="220" font-size="21.5" text-anchor="end" >3</text>
<text x="78.2" y="188" font-size="21.5" text-anchor="end" >4</text>
<text x="78.2" y="157" font-size="21.5" text-anchor="end" >5</text>
<text x="78.2" y="125" font-size="21.5" text-anchor="end" >6</text>
<text x="78.2" y="94" font-size="21.5" text-anchor="end" >7</text>
<text x="78.2" y="62" font-size="21.5" text-anchor="end" >8</text>
<text x="78.2" y="566" font-size="21.5" text-anchor="end" >0</text>
<text x="78.2" y="535" font-size="21.5" text-anchor="end" >1</text>
<text x="78.2" y="503" font-size="21.5" text-anchor="end" >2</text>
<text x="78.2" y="472" font-size="21.5" text-anchor="end" >3</text>
<text x="78.2" y="440" font-size="21.5" text-anchor="end" >4</text>
<text x="78.2" y="409" font-size="21.5" text-anchor="end" >5</text>
<text x="78.2" y="377" font-size="21.5" text-anchor="end" >6</text>
<text x="78.2" y="346" font-size="21.5" text-anchor="end" >7</text>
<text x="91.0" y="584" font-size="21.5" text-anchor="middle" >0.0</text>
<text x="165.8" y="584" font-size="21.5" text-anchor="middle" >0.5</text>
<text x="240.6" y="584" font-size="21.5" text-anchor="middle" >1.0</text>
<text x="315.4" y="584" font-size="21.5" text-anchor="middle" >1.5</text>
<text x="390.2" y="584" font-size="21.5" text-anchor="middle" >2.0</text>
<text x="465.0" y="584" font-size="21.5" text-anchor="middle" >2.5</text>
<text x="109" y="121" font-size="21.5" text-anchor="start" >LR</text>
<text x="208.3" y="104" font-size="21.5" text-anchor="start" >R</text>
<text x="173.3" y="217.3" font-size="21.5" text-anchor="start" >LA</text>
<text x="206.8" y="255.5" font-size="21.5" text-anchor="start" >SH</text>
<text x="348.3" y="209" font-size="21.5" text-anchor="start" >S</text>
<text x="115.1" y="353.8" font-size="21.5" text-anchor="start" >LR</text>
<text x="196.7" y="353.8" font-size="21.5" text-anchor="start" >R</text>
<text x="217.8" y="426.7" font-size="21.5" text-anchor="start" >S</text>
<text x="171" y="470.3" font-size="21.5" text-anchor="start" >LA</text>
<text x="228.1" y="471.8" font-size="21.5" text-anchor="start" >SH</text>
<text x="283.3" y="124.5" font-size="21.5" text-anchor="start" >With McLachlan</text>
<text x="281.8" y="151.4" font-size="21.5" text-anchor="start" >No McLachlan</text>
<text x="396.7" y="94" font-size="21.5" text-anchor="start" >[</text>
<text x="403" y="94" font-size="21.5" text-anchor="start" >1</text>
<text x="414.7" y="94" font-size="21.5" text-anchor="start" >1</text>
<text x="430.3" y="94" font-size="21.5" text-anchor="start" >0</text>
<text x="444.2" y="94" font-size="21.5" text-anchor="start" >]</text>
<line x1="417.1" y1="74.3" x2="430" y2="74.3" stroke="#000" stroke-width="1.4"/>
<text x="396.7" y="346" font-size="21.5" text-anchor="start" >[</text>
<text x="403" y="346" font-size="21.5" text-anchor="start" >1</text>
<text x="415.9" y="346" font-size="21.5" text-anchor="start" >1</text>
<text x="430.3" y="346" font-size="21.5" text-anchor="start" >2</text>
<text x="444.2" y="346" font-size="21.5" text-anchor="start" >]</text>
<line x1="428.8" y1="326.3" x2="441.8" y2="326.3" stroke="#000" stroke-width="1.4"/>
<line x1="217" y1="117.5" x2="270" y2="117.5" stroke="#00ff00" stroke-width="1.5"/>
<line x1="217" y1="144.5" x2="268" y2="144.5" stroke="#00ff00" stroke-width="1.5" stroke-dasharray="7,3.7"/>
<text x="164.6" y="613" font-size="24.4" text-anchor="start" >Wave Vector Q [&#197;</text>
<text x="357.3" y="599" font-size="14" text-anchor="start" >&#8722;1</text>
<text x="372.6" y="613" font-size="24.4" text-anchor="start" >]</text>
<text transform="translate(43,423) rotate(-90)" x="0" y="0" font-size="23.8">Frequency h&#969; [meV]</text>
<rect x="26.2" y="295.2" width="1.8" height="7.4" fill="#000"/>
</svg></body></html>
